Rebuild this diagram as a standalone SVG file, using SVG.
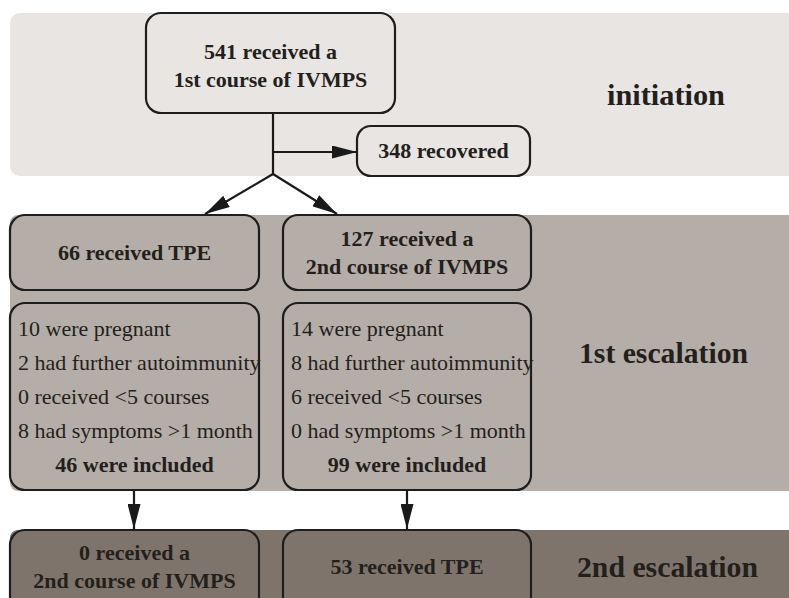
<svg xmlns="http://www.w3.org/2000/svg" width="789" height="598" viewBox="0 0 789 598">
<style>
.box{stroke:#1e1e1e;stroke-width:2.2}
.t{font-family:"Liberation Serif","Times New Roman",serif;font-size:22px;fill:#231f1c}
.b{font-weight:bold;text-anchor:middle}
.sec{font-family:"Liberation Serif","Times New Roman",serif;font-size:30px;font-weight:bold;fill:#231f1c}
.ln{stroke:#1a1a1a;stroke-width:2.2;fill:none}
</style>
<defs>
<marker id="ah" viewBox="0 0 25 13" refX="25" refY="6.5" markerWidth="25" markerHeight="13" markerUnits="userSpaceOnUse" orient="auto">
<path d="M0,0 L25,6.5 L0,13 z" fill="#1a1a1a"/>
</marker>
</defs>
<g id="bands">
<rect x="10" y="13" width="800" height="163" rx="10" fill="#e9e5e2"/>
<rect x="10" y="215" width="800" height="276" rx="8" fill="#b5ada7"/>
<rect x="10" y="530" width="800" height="90" rx="8" fill="#7e746b"/>
</g>
<g id="labels">
<text class="sec" x="607" y="105" textLength="118" lengthAdjust="spacingAndGlyphs">initiation</text>
<text class="sec" x="579" y="363" textLength="169" lengthAdjust="spacingAndGlyphs">1st escalation</text>
<text class="sec" x="577" y="577" textLength="181" lengthAdjust="spacingAndGlyphs">2nd escalation</text>
</g>
<g id="n541">
<rect class="box" x="146" y="13" width="249" height="100" rx="15" fill="#e9e5e2"/>
<text class="t b" x="270.5" y="59">541 received a</text>
<text class="t b" x="270.5" y="87">1st course of IVMPS</text>
</g>
<g id="n348">
<rect class="box" x="357" y="126" width="173" height="50" rx="14" fill="#e9e5e2"/>
<text class="t b" x="443.5" y="158">348 recovered</text>
</g>
<g id="n66">
<rect class="box" x="10" y="215" width="249" height="75" rx="15" fill="#b5ada7"/>
<text class="t b" x="134.5" y="260">66 received TPE</text>
</g>
<g id="n127">
<rect class="box" x="283" y="215" width="248" height="75" rx="15" fill="#b5ada7"/>
<text class="t b" x="407" y="246">127 received a</text>
<text class="t b" x="407" y="274">2nd course of IVMPS</text>
</g>
<g id="n46">
<rect class="box" x="10" y="303" width="249" height="187" rx="15" fill="#b5ada7"/>
<text class="t" x="18" y="336">10 were pregnant</text>
<text class="t" x="18" y="370">2 had further autoimmunity</text>
<text class="t" x="18" y="404">0 received &lt;5 courses</text>
<text class="t" x="18" y="438">8 had symptoms &gt;1 month</text>
<text class="t b" x="134.5" y="472">46 were included</text>
</g>
<g id="n99">
<rect class="box" x="283" y="303" width="248" height="187" rx="15" fill="#b5ada7"/>
<text class="t" x="291" y="336">14 were pregnant</text>
<text class="t" x="291" y="370">8 had further autoimmunity</text>
<text class="t" x="291" y="404">6 received &lt;5 courses</text>
<text class="t" x="291" y="438">0 had symptoms &gt;1 month</text>
<text class="t b" x="407" y="472">99 were included</text>
</g>
<g id="n0">
<rect class="box" x="10" y="530" width="249" height="90" rx="15" fill="#7e746b"/>
<text class="t b" x="134.5" y="560">0 received a</text>
<text class="t b" x="134.5" y="588">2nd course of IVMPS</text>
</g>
<g id="n53">
<rect class="box" x="283" y="530" width="248" height="90" rx="15" fill="#7e746b"/>
<text class="t b" x="407" y="574">53 received TPE</text>
</g>
<g id="connectors">
<path class="ln" d="M273,113 V174"/>
<path class="ln" d="M273,152 H357" marker-end="url(#ah)"/>
<path class="ln" d="M273,174 L205,214" marker-end="url(#ah)"/>
<path class="ln" d="M273,174 L337,214" marker-end="url(#ah)"/>
<path class="ln" d="M134,490 V529" marker-end="url(#ah)"/>
<path class="ln" d="M407,490 V529" marker-end="url(#ah)"/>
</g>
</svg>
